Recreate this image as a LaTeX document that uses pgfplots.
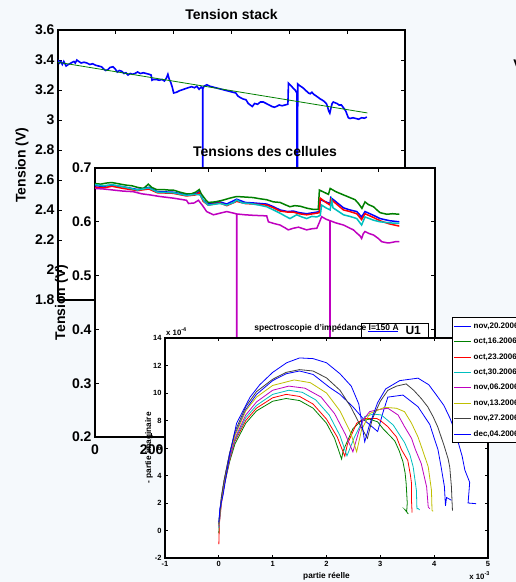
\documentclass[border=0pt]{standalone}
\usepackage{pgfplots}
\pgfplotsset{compat=1.18}
\usepackage{fontspec}
\setmainfont{Liberation Sans}
\definecolor{bg}{RGB}{245,249,252}
\definecolor{mblue}{rgb}{0,0,1}
\definecolor{mgreen}{rgb}{0,0.5,0}
\definecolor{mred}{rgb}{1,0,0}
\definecolor{mcyan}{rgb}{0,0.75,0.75}
\definecolor{mmag}{rgb}{0.75,0,0.75}
\definecolor{myel}{rgb}{0.75,0.75,0}
\definecolor{mgray}{rgb}{0.25,0.25,0.25}
\newcommand{\fs}[1]{\fontsize{#1}{#1}\selectfont\bfseries}
\pgfplotsset{
  mat/.style={scale only axis, axis background/.style={fill=white},
    axis line style={line width=1.3pt, black},
    tick style={line width=0.8pt, black}, tick align=inside, major tick length=4pt,
    /pgf/number format/assume math mode=true, clip=true},
}
\begin{document}
\begin{tikzpicture}[x=1pt,y=1pt]
\useasboundingbox (0,0) rectangle (516,582);
\clip (0,0) rectangle (516,582);
\fill[bg] (0,0) rectangle (516,582);
\node[font=\fs{14}, anchor=base] at (518,582-70) {V};

% ---------------- Tension stack ----------------
\begin{axis}[mat, at={(58pt,552pt)}, anchor=north west, width=347pt, height=270pt,
  xmin=0, xmax=1200, ymin=1.8, ymax=3.6,
  xtick={0,200,400,600,800,1000,1200}, xticklabels={},
  ytick={1.8,2,2.2,2.4,2.6,2.8,3,3.2,3.4,3.6},
  tick label style={font=\fs{14}},
  title={Tension stack}, title style={font=\fs{14}, at={(0.5,1)}, anchor=base, yshift=4pt},
  ylabel={Tension (V)}, ylabel style={font=\fs{14}, at={(axis description cs:-0.093,0.5)}, anchor=base},
]
\addplot[mblue, line width=1.6pt] coordinates {
(0,3.40)(5,3.38)(10,3.39)(15,3.37)(20,3.39)(28,3.36)(36,3.37)(45,3.38)(55,3.39)(60,3.38)
(65,3.40)(72,3.39)(80,3.38)(90,3.385)(100,3.38)(110,3.37)(120,3.375)(130,3.365)(140,3.36)
(150,3.355)(158,3.34)(165,3.33)(172,3.335)(180,3.35)(190,3.355)(198,3.34)(205,3.32)(212,3.33)
(220,3.325)(228,3.31)(235,3.315)(242,3.30)(250,3.31)(258,3.305)(266,3.31)(275,3.32)(285,3.31)
(295,3.315)(305,3.31)(315,3.305)(322,3.30)(325,3.265)(330,3.27)(340,3.27)(350,3.265)(360,3.27)
(368,3.26)(375,3.28)(380,3.305)(385,3.27)(390,3.25)(395,3.22)(400,3.18)(410,3.185)(420,3.195)
(435,3.205)(450,3.215)(462,3.222)(472,3.215)(480,3.225)(488,3.205)(495,3.22)(500,3.21)
(500.5,1.0)(501,3.21)(505,3.225)(515,3.235)(525,3.225)(535,3.22)(545,3.215)(555,3.21)
(565,3.205)(575,3.20)(585,3.195)(595,3.19)(605,3.185)(615,3.18)(622,3.16)(630,3.15)(640,3.14)
(650,3.135)(658,3.11)(665,3.10)(672,3.09)(680,3.11)(690,3.105)(700,3.12)(710,3.12)(720,3.11)
(730,3.10)(740,3.09)(748,3.085)(755,3.09)(765,3.10)(775,3.095)(785,3.10)(795,3.105)(797,3.245)
(805,3.23)(812,3.215)(820,3.20)(826,3.18)(828,1.0)(829,3.24)(835,3.23)(843,3.22)(850,3.21)
(858,3.195)(866,3.18)(872,3.175)(878,3.185)(885,3.17)(893,3.16)(900,3.15)(907,3.14)(912,3.135)
(920,3.125)(928,3.11)(932,3.09)(936,3.06)(940,3.045)(944,3.08)(948,3.11)(952,3.12)(958,3.115)
(965,3.11)(972,3.10)(980,3.10)(988,3.08)(995,3.06)(1000,3.035)(1004,3.015)(1010,3.01)
(1020,3.015)(1030,3.01)(1040,3.005)(1050,3.015)(1060,3.012)(1068,3.02)};
\addplot[mgreen, line width=0.8pt] coordinates {(0,3.385)(1070,3.047)};
\end{axis}

% ---------------- Tensions des cellules ----------------
\begin{axis}[mat, at={(95pt,414pt)}, anchor=north west, width=340pt, height=269pt,
  xmin=0, xmax=1200, ymin=0.2, ymax=0.7,
  xtick={0,200,400,600,800,1000,1200},
  ytick={0.2,0.3,0.4,0.5,0.6,0.7},
  yticklabel style={/pgf/number format/.cd, fixed, fixed zerofill, precision=1},
  xticklabel style={yshift=-4pt},
  tick label style={font=\fs{14}},
  title={Tensions des cellules}, title style={font=\fs{14}, at={(0.5,1)}, anchor=base, yshift=5.3pt},
  ylabel={Tension (V)}, ylabel style={font=\fs{14}, at={(axis description cs:-0.088,0.5)}, anchor=base},
  legend style={at={(0.7815,0.425)}, anchor=north west, font=\fs{12}, draw=black, line width=1.2pt, fill=white, inner xsep=6pt, inner ysep=1pt},
  legend image code/.code={\draw[#1,line width=1pt] (0pt,0pt) -- (30pt,0pt); \path (35pt,0pt);},
]
\addplot[mblue, line width=1.5pt] coordinates {
(0,0.667)(30,0.666)(60,0.668)(100,0.665)(150,0.660)(190,0.664)(220,0.656)(276,0.655)(323,0.650)
(355,0.652)(368,0.656)(382,0.640)(400,0.633)(441,0.637)(465,0.633)(500,0.642)(530,0.636)
(560,0.635)(606,0.633)(630,0.628)(653,0.622)(680,0.619)(700,0.620)(720,0.617)(747,0.615)
(783,0.618)(792,0.619)(795,0.641)(815,0.637)(830,0.634)(832,0.645)(877,0.626)(900,0.622)
(924,0.619)(941,0.609)(953,0.619)(983,0.612)(1006,0.606)(1040,0.602)(1074,0.600)};
\addlegendentry{U1}
\addplot[mgreen, line width=1.5pt] coordinates {
(0,0.671)(20,0.670)(40,0.672)(59,0.673)(80,0.671)(100,0.669)(112,0.668)(130,0.667)(150,0.664)
(171,0.662)(180,0.666)(188,0.670)(200,0.664)(217,0.660)(240,0.660)(260,0.659)(276,0.659)
(300,0.655)(323,0.652)(340,0.652)(355,0.655)(368,0.660)(375,0.652)(382,0.647)(392,0.640)
(400,0.636)(424,0.637)(450,0.640)(476,0.644)(500,0.647)(530,0.646)(559,0.645)(580,0.643)
(606,0.641)(630,0.637)(653,0.636)(670,0.632)(688,0.628)(705,0.630)(724,0.629)(750,0.625)
(771,0.623)(788,0.623)(792,0.659)(808,0.655)(824,0.651)(830,0.662)(850,0.656)(877,0.650)
(900,0.645)(918,0.641)(930,0.634)(942,0.625)(953,0.637)(965,0.632)(983,0.628)(995,0.622)
(1006,0.617)(1030,0.614)(1050,0.615)(1074,0.614)};
\addlegendentry{U2}
\addplot[mred, line width=1.5pt] coordinates {
(0,0.664)(30,0.663)(60,0.666)(100,0.662)(150,0.658)(190,0.661)(220,0.654)(276,0.653)(323,0.648)
(355,0.650)(368,0.654)(382,0.638)(400,0.631)(441,0.635)(465,0.630)(500,0.638)(530,0.634)
(560,0.633)(606,0.631)(630,0.626)(653,0.620)(680,0.618)(700,0.618)(720,0.615)(747,0.613)
(783,0.616)(792,0.617)(795,0.644)(815,0.636)(830,0.631)(832,0.642)(877,0.622)(900,0.619)
(924,0.615)(941,0.604)(953,0.615)(983,0.608)(1006,0.602)(1040,0.596)(1074,0.592)};
\addlegendentry{U3}
\addplot[mcyan, line width=1.5pt] coordinates {
(0,0.669)(30,0.667)(60,0.669)(100,0.665)(150,0.659)(190,0.663)(220,0.655)(276,0.654)(323,0.649)
(355,0.651)(371,0.650)(385,0.638)(400,0.631)(441,0.634)(465,0.631)(490,0.636)(500,0.6405)
(520,0.635)(547,0.634)(580,0.631)(606,0.628)(630,0.622)(653,0.616)(670,0.611)(688,0.606)
(712,0.613)(730,0.609)(747,0.606)(765,0.610)(783,0.609)(795,0.612)(800,0.631)(815,0.626)
(830,0.622)(835,0.640)(840,0.626)(877,0.613)(900,0.610)(924,0.606)(941,0.594)(953,0.609)
(983,0.603)(1006,0.600)(1040,0.598)(1074,0.597)};
\addlegendentry{U4}
\addplot[mmag, line width=1.5pt] coordinates {
(0,0.662)(30,0.661)(65,0.659)(100,0.657)(135,0.656)(165,0.652)(194,0.650)(229,0.647)(276,0.644)
(323,0.640)(330,0.634)(350,0.635)(365,0.640)(380,0.630)(394,0.619)(418,0.613)(441,0.616)
(465,0.619)(490,0.616)(500,0.6145)(500.5,0.15)(501,0.6145)(530,0.613)(560,0.612)(606,0.611)
(612,0.600)(630,0.597)(653,0.594)(670,0.589)(682,0.585)(700,0.588)(718,0.590)(735,0.587)
(747,0.585)(765,0.587)(783,0.588)(792,0.599)(800,0.6095)(815,0.605)(829,0.602)(829.5,0.15)
(830,0.602)(850,0.598)(877,0.594)(900,0.588)(912,0.585)(924,0.579)(935,0.574)(941,0.569)
(947,0.578)(953,0.582)(968,0.578)(983,0.5755)(1000,0.569)(1012,0.563)(1030,0.561)(1041,0.561)
(1060,0.563)(1074,0.563)};
\addlegendentry{U5}
\end{axis}

% ---------------- Impedance ----------------
\begin{axis}[mat, at={(165pt,244pt)}, anchor=north west, width=323pt, height=220pt,
  clip mode=individual,
  axis line style={line width=1.2pt, black},
  xmin=-1, xmax=5, ymin=-2, ymax=14,
  xtick={-1,0,1,2,3,4,5}, ytick={-2,0,2,4,6,8,10,12,14},
  tick label style={font=\fs{7.5}}, major tick length=3pt,
  title={spectroscopie d'impédance I=150 A}, title style={font=\fs{8.5}, at={(0.5,1)}, anchor=base, yshift=1pt},
  xlabel={partie réelle}, xlabel style={font=\fs{8.3}, at={(axis description cs:0.5,-0.091)}, anchor=base},
  ylabel={- partie imaginaire}, ylabel style={font=\fs{8.3}, at={(axis description cs:-0.043,0.5)}, anchor=base},
  legend style={at={(0.889,1.095)}, anchor=north west, font=\fs{8}, draw=black, line width=1.3pt, fill=white, row sep=4.3pt, inner xsep=1pt, inner ysep=3pt},
  legend cell align=left,
  legend image code/.code={\draw[#1,line width=0.9pt] (0pt,0pt) -- (17pt,0pt);},
]
\addplot[mblue, line width=0.8pt] coordinates {
(0,0.4)(0.02,1.5)(0.05,2.5)(0.1,3.7)(0.2,5.6)(0.3,7.0)(0.5,8.8)(0.7,9.9)(1.0,10.9)(1.25,11.4)
(1.5,11.6)(1.75,11.35)(2.06,10.4)(2.25,9.9)(2.49,9.0)(2.71,8.0)(2.95,7.2)(3.05,8.6)(3.14,9.7)
(3.42,9.85)(3.7,9.0)(3.92,7.7)(4.01,6.6)(4.07,5.9)(4.13,4.6)(4.19,3.2)(4.21,1.8)(4.23,2.4)(4.32,2.2)};
\addlegendentry{nov,20.2006}
\addplot[mgreen, line width=0.8pt] coordinates {
(0,-0.2)(0.01,1.0)(0.05,2.2)(0.1,3.3)(0.2,5.0)(0.3,6.3)(0.5,7.8)(0.7,8.7)(1.0,9.4)(1.25,9.6)
(1.5,9.45)(1.75,8.9)(2.0,7.8)(2.15,6.7)(2.28,5.2)(2.31,5.8)(2.49,7.4)(2.65,8.0)(2.8,8.1)
(2.95,7.9)(3.05,7.4)(3.2,6.8)(3.27,6.5)(3.35,5.8)(3.42,5.0)(3.46,4.2)(3.48,3.4)(3.5,2.0)
(3.49,1.4)(3.46,1.5)(3.52,1.2)};
\addlegendentry{oct,16.2006}
\addplot[mred, line width=0.8pt] coordinates {
(0,-1.0)(0.01,0.5)(0.05,2.0)(0.1,3.3)(0.2,5.1)(0.3,6.5)(0.5,8.0)(0.7,8.9)(1.0,9.65)(1.25,9.9)
(1.5,9.75)(1.75,9.2)(2.0,8.1)(2.2,6.8)(2.34,5.4)(2.39,6.3)(2.56,7.8)(2.71,8.15)(2.93,8.15)
(3.0,8.0)(3.14,7.55)(3.3,6.8)(3.39,5.9)(3.51,5.1)(3.56,4.0)(3.58,3.4)(3.58,2.1)(3.59,1.3)};
\addlegendentry{oct,23.2006}
\addplot[mcyan, line width=0.8pt] coordinates {
(0,0.2)(0.05,2.2)(0.1,3.4)(0.2,5.2)(0.3,6.6)(0.5,8.2)(0.7,9.1)(1.0,9.9)(1.3,10.2)(1.55,10.05)
(1.8,9.5)(2.05,8.4)(2.25,6.9)(2.38,5.43)(2.52,6.8)(2.71,8.28)(2.87,8.47)(3.02,8.4)(3.24,7.67)
(3.36,6.94)(3.45,6.4)(3.55,5.5)(3.61,4.63)(3.67,2.92)(3.68,1.58)(3.7,1.6)(3.73,1.5)};
\addlegendentry{oct,30.2006}
\addplot[mmag, line width=0.8pt] coordinates {
(0,0.3)(0.05,2.3)(0.1,3.5)(0.2,5.3)(0.3,6.7)(0.5,8.4)(0.7,9.35)(1.0,10.2)(1.3,10.5)(1.6,10.35)
(1.9,9.7)(2.15,8.5)(2.35,7.0)(2.49,5.72)(2.6,7.2)(2.68,8.03)(2.8,8.64)(2.93,8.77)(3.14,8.89)
(3.33,8.4)(3.45,7.55)(3.58,6.7)(3.65,5.9)(3.76,4.87)(3.86,3.17)(3.89,1.7)(3.92,1.58)};
\addlegendentry{nov,06.2006}
\addplot[myel, line width=0.8pt] coordinates {
(0,0.4)(0.05,2.4)(0.1,3.6)(0.2,5.5)(0.3,6.9)(0.5,8.7)(0.7,9.7)(1.0,10.55)(1.4,10.95)(1.7,10.75)
(2.0,10.0)(2.25,8.7)(2.45,7.1)(2.56,5.72)(2.65,7.3)(2.8,8.5)(3.08,8.96)(3.3,8.89)(3.45,8.64)
(3.58,7.8)(3.7,6.8)(3.78,5.9)(3.89,4.63)(3.95,2.92)(3.96,1.46)(3.98,1.4)};
\addlegendentry{nov,13.2006}
\addplot[mgray, line width=0.8pt] coordinates {
(0,0.5)(0.05,2.5)(0.1,3.7)(0.2,5.6)(0.3,7.2)(0.5,9.0)(0.7,10.1)(1.0,11.0)(1.25,11.5)(1.5,11.7)
(1.75,11.6)(2.0,11.1)(2.25,10.2)(2.45,9.0)(2.62,7.7)(2.76,6.7)(2.85,8.1)(3.0,9.4)(3.14,10.2)
(3.3,10.5)(3.48,10.66)(3.62,10.2)(3.76,9.6)(3.88,9.0)(3.98,8.28)(4.07,7.5)(4.13,6.8)(4.19,6.1)
(4.26,5.2)(4.29,4.6)(4.32,3.2)(4.33,2.3)(4.34,1.45)};
\addlegendentry{nov,27.2006}
\addplot[mblue, line width=0.8pt] coordinates {
(0,0.6)(0.02,1.6)(0.08,2.6)(0.2,5.5)(0.33,7.8)(0.58,9.7)(0.76,10.6)(1.0,11.5)(1.26,12.2)
(1.5,12.55)(1.75,12.5)(2.0,12.2)(2.25,11.4)(2.46,10.5)(2.6,9.2)(2.71,6.45)(2.8,7.7)(2.95,9.3)
(3.1,10.3)(3.36,10.9)(3.7,11.08)(3.9,10.6)(4.04,9.86)(4.18,9.1)(4.29,8.2)(4.38,7.3)(4.44,6.5)
(4.52,5.4)(4.57,4.4)(4.66,3.5)(4.63,2.0)(4.78,1.95)};
\addlegendentry{dec,04.2006}
\node[anchor=south west, font=\fs{7.8}, inner sep=0pt] at (rel axis cs:0.003,1.008) {x 10\raisebox{4pt}{\fs{5.5}-4}};
\node[anchor=north east, font=\fs{7.8}, inner sep=0pt] at (rel axis cs:1.005,-0.06) {x 10\raisebox{4pt}{\fs{5.5}-3}};
\end{axis}
\end{tikzpicture}
\end{document}
